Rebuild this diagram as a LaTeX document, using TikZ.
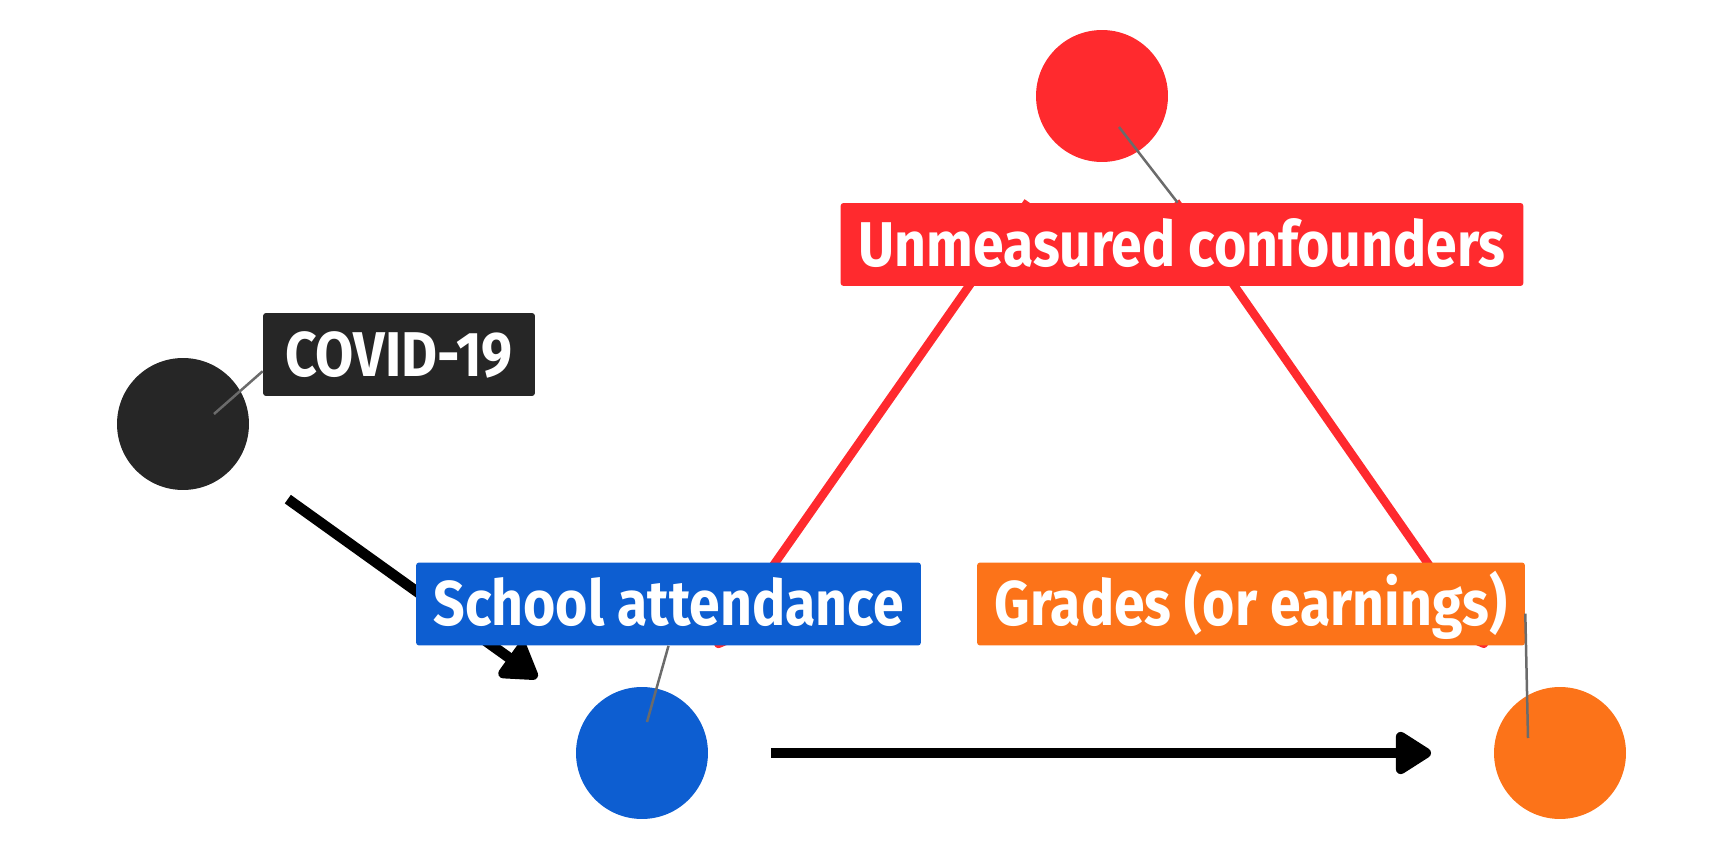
\documentclass[tikz,border=0pt]{standalone}
\usepackage{fontspec}
\newfontfamily\dagfont{Fira Sans}[FakeStretch=0.875]
\usetikzlibrary{arrows.meta}
\definecolor{confred}{HTML}{FF2A2E}
\definecolor{covdark}{HTML}{262626}
\definecolor{schblue}{HTML}{0D5ED1}
\definecolor{grdorange}{HTML}{FC7319}
\definecolor{leadgray}{HTML}{6B6B6B}

\begin{document}
\begin{tikzpicture}[x=0.02cm, y=-0.02cm,
    dot/.style={circle, inner sep=0pt, outer sep=0pt, minimum size=2.64cm},
    lab/.style={rounded corners=0.06cm, text=white, font=\dagfont\bfseries\fontsize{36}{40}\selectfont,
        text height=25pt, text depth=0pt, inner sep=0pt, minimum height=1.66cm},
    edge/.style={line width=0.21cm, shorten <=1.26cm, shorten >=1.26cm,
        -{Triangle[length=0.8cm, width=0.95cm, round]}},
    leader/.style={leadgray, line width=0.05cm}]

    \useasboundingbox (0,0) rectangle (1728,864);

    \begin{scope}
    \clip (0,30) rectangle (1728,818);
    \foreach \n/\x/\y/\c in {U/1102/96/confred, C/183/424/covdark, S/642/753/schblue, G/1560/753/grdorange}{
    \node[dot, fill=\c] (\n) at (\x,\y) {};
}
    \end{scope}

\draw[edge, confred, line width=0.17cm] (U) -- (S);
\draw[edge, confred, line width=0.17cm] (U) -- (G);
\draw[edge] (C) -- (S);
\draw[edge] (S) -- (G);

    \node[lab, fill=confred, minimum width=13.66cm] (Ulab) at (1182,244.5) {Unmeasured confounders};
    \node[lab, fill=covdark, minimum width=5.44cm] (Clab) at (399,354.5) {COVID-19};
    \node[lab, fill=schblue, minimum width=10.1cm] (Slab) at (668.5,604) {School attendance};
    \node[lab, fill=grdorange, minimum width=10.96cm] (Glab) at (1251,604) {Grades (or earnings)};

    \foreach \n/\x/\y in {Ul/1119/127, Cl/214/414, Sl/647/722, Gl/1528/738}{
    \coordinate (\n) at (\x,\y);
}

\draw[leader] (Ul) -- (Ulab.96);
\draw[leader] (Cl) -- (Clab.187);
\draw[leader] (Sl) -- (Slab.south);
\draw[leader] (Gl) -- (Glab.-2.3);

\end{tikzpicture}
\end{document}
